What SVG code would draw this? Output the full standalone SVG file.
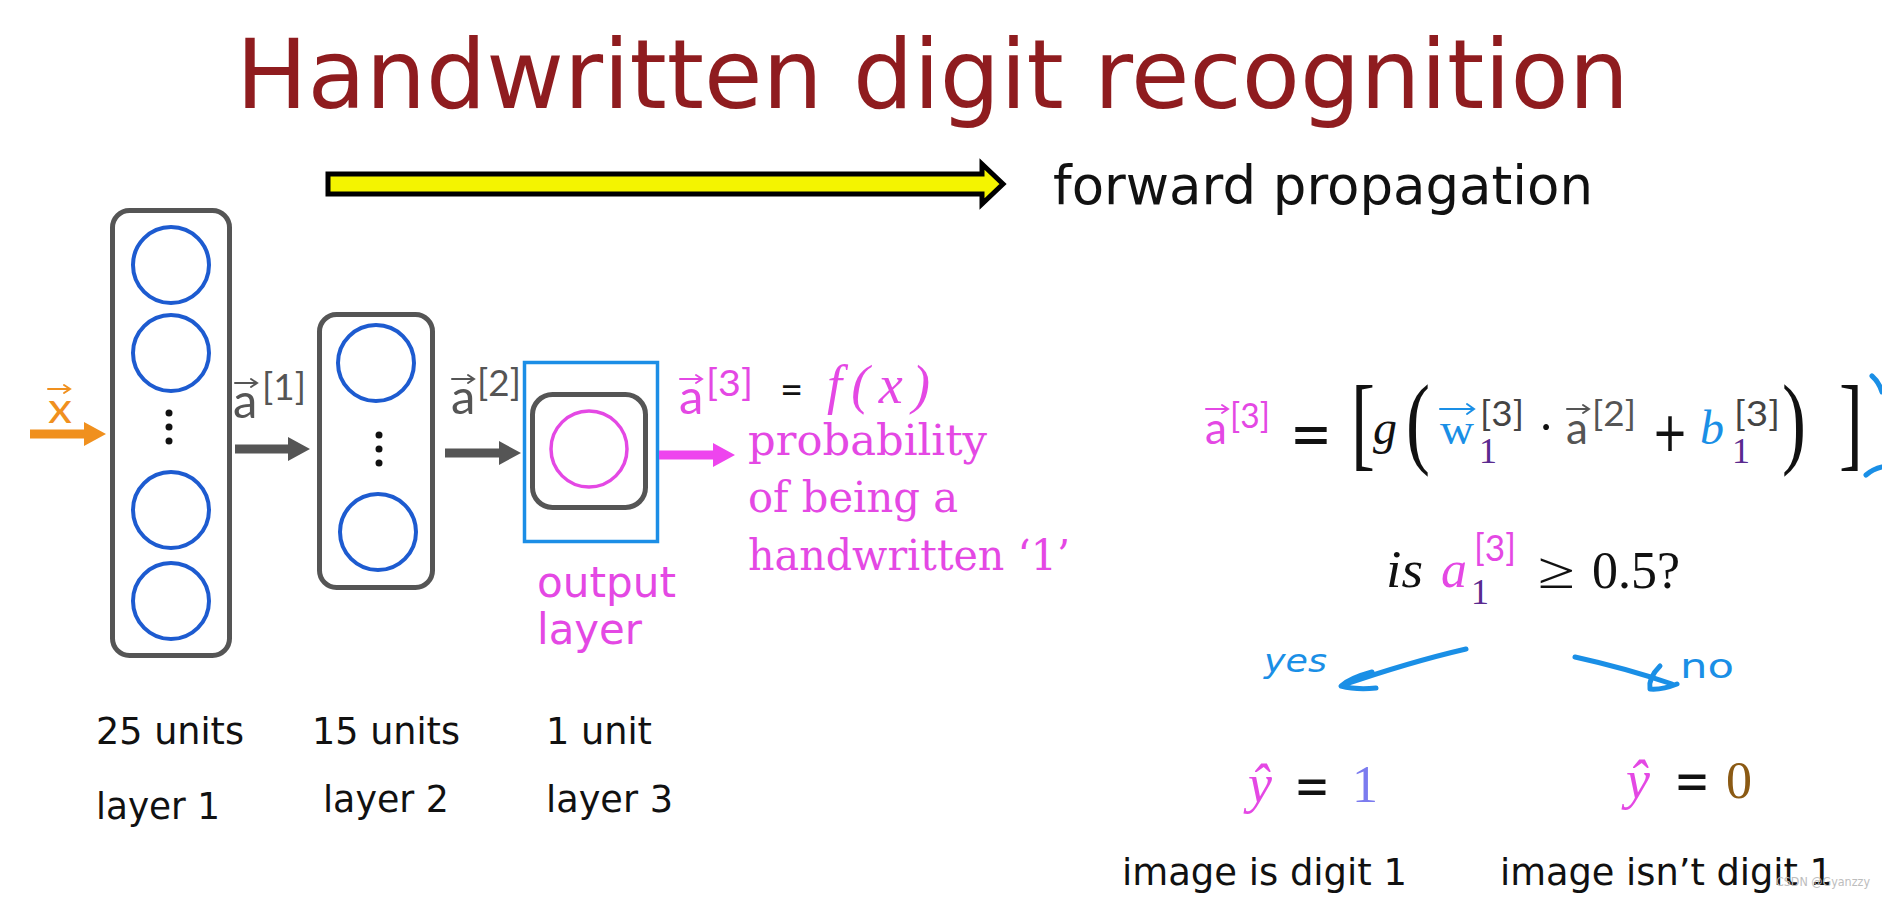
<svg xmlns="http://www.w3.org/2000/svg" xmlns:xlink="http://www.w3.org/1999/xlink" width="1882" height="897" viewBox="0 0 1882 897">
<defs>
<style>
.sans{font-family:"DejaVu Sans","Liberation Sans",sans-serif}
.lato{font-family:Lato,"Liberation Sans",sans-serif}
.serif{font-family:"Liberation Serif","DejaVu Serif",serif}
.dserif{font-family:"DejaVu Serif","Liberation Serif",serif}
.it{font-style:italic}
.box{fill:none;stroke:#555;stroke-width:5}
.unit{fill:none;stroke:#1d5bd0;stroke-width:4}
.dot{fill:#111}
.mag{fill:#e448e4}
.gray{fill:#555}
.blue{fill:#1a8fe6}
.purple{fill:#5a2a8f}
.blk{fill:#111}
.hand{fill:none;stroke:#1a8fe6;stroke-width:5;stroke-linecap:round;stroke-linejoin:round}
.vec{fill:none;stroke-width:2;stroke-linecap:round}
</style>
<path id="vec22" d="M0,0 H22 M16,-4 L22,0 L16,4"/>
<path id="vec34" d="M0,0 H34 M27,-5 L34,0 L27,5"/>
</defs>
<rect width="1882" height="897" fill="#ffffff"/>

<g id="title">
<text class="sans" x="236" y="108" font-size="96" fill="#8f1c1f" textLength="1393" lengthAdjust="spacingAndGlyphs">Handwritten digit recognition</text>
</g>

<g id="forward-label">
<text class="sans" x="1053" y="204" font-size="53" fill="#111" textLength="540" lengthAdjust="spacingAndGlyphs">forward propagation</text>
</g>

<g id="layer1">
<rect class="box" x="112.5" y="210.5" width="117" height="445" rx="17"/>
<circle class="unit" cx="171" cy="265" r="38"/>
<circle class="unit" cx="171" cy="353" r="38"/>
<circle class="dot" cx="169" cy="413" r="3.5"/>
<circle class="dot" cx="169" cy="427" r="3.5"/>
<circle class="dot" cx="169" cy="441" r="3.5"/>
<circle class="unit" cx="171" cy="510" r="38"/>
<circle class="unit" cx="171" cy="601" r="38"/>
</g>

<g id="layer2">
<rect class="box" x="319.5" y="314.5" width="113" height="273" rx="17"/>
<circle class="unit" cx="376" cy="363" r="38"/>
<circle class="dot" cx="379" cy="435" r="3.5"/>
<circle class="dot" cx="379" cy="449" r="3.5"/>
<circle class="dot" cx="379" cy="463" r="3.5"/>
<circle class="unit" cx="378" cy="532" r="38"/>
</g>

<g id="layer3">
<rect x="524.5" y="362.5" width="133" height="179" fill="none" stroke="#1c8ee6" stroke-width="3.5"/>
<rect class="box" x="532.5" y="394.5" width="113" height="113" rx="20"/>
<circle cx="589" cy="449" r="38" fill="none" stroke="#e448e4" stroke-width="3.5"/>
<text class="sans mag" x="537" y="597" font-size="42" textLength="139" lengthAdjust="spacingAndGlyphs">output</text>
<text class="sans mag" x="537" y="644" font-size="42" textLength="105" lengthAdjust="spacingAndGlyphs">layer</text>
</g>

<g id="connectors">
<path d="M328,174 H982 V164 L1003,184 L982,204 V194 H328 Z" fill="#f4f400" stroke="#000" stroke-width="5" stroke-linejoin="miter"/>
<path d="M30,429.5 H84 V422 L106,434 L84,446 V438.5 H30 Z" fill="#f0901e"/>
<path d="M235,444.5 H288 V437 L310,449 L288,461 V453.5 H235 Z" fill="#555"/>
<path d="M445,448.5 H499 V441 L521,453 L499,465 V457.5 H445 Z" fill="#555"/>
<path d="M659,450.5 H713 V443 L735,455 L713,467 V459.5 H659 Z" fill="#ee44ee"/>
<path class="hand" d="M1466,649 Q1410,662 1343,685"/>
<path class="hand" d="M1372,672 Q1350,678 1341,686 Q1356,690 1376,688"/>
<path class="hand" d="M1575,657 Q1625,668 1672,684"/>
<path class="hand" d="M1660,666 Q1648,678 1650,689 Q1662,690 1677,684"/>
<path class="hand" d="M1872,376 Q1879,382 1882,392" stroke-width="4"/>
<path class="hand" d="M1866,475 Q1873,469 1882,467" stroke-width="4"/>
</g>

<g id="label-x">
<use xlink:href="#vec22" href="#vec22" x="48" y="389" class="vec" stroke="#f0901e"/>
<text class="lato" x="48" y="423" font-size="42" fill="#f0901e" textLength="24" lengthAdjust="spacingAndGlyphs">x</text>
</g>

<g id="label-a1">
<use href="#vec22" x="235" y="383" class="vec" stroke="#555"/>
<text class="lato gray" x="233" y="418" font-size="49">a</text>
<text class="lato gray" x="262" y="400" font-size="37" textLength="44" lengthAdjust="spacingAndGlyphs">[1]</text>
</g>

<g id="label-a2">
<use href="#vec22" x="452" y="379" class="vec" stroke="#555"/>
<text class="lato gray" x="451" y="414" font-size="49">a</text>
<text class="lato gray" x="477" y="396" font-size="37" textLength="44" lengthAdjust="spacingAndGlyphs">[2]</text>
</g>

<g id="label-a3">
<use href="#vec22" x="680" y="379" class="vec" stroke="#e448e4"/>
<text class="lato mag" x="679" y="414" font-size="49">a</text>
<text class="lato mag" x="706" y="396" font-size="37" textLength="47" lengthAdjust="spacingAndGlyphs">[3]</text>
<text class="lato blk" x="780" y="404" font-size="40">=</text>
<text class="serif it mag" x="827" y="403" font-size="54" textLength="103" lengthAdjust="spacing">f(x)</text>
</g>

<g id="probability-text">
<text class="dserif mag" x="748" y="455" font-size="43" textLength="239" lengthAdjust="spacingAndGlyphs">probability</text>
<text class="dserif mag" x="748" y="512" font-size="43" textLength="210" lengthAdjust="spacingAndGlyphs">of being a</text>
<text class="dserif mag" x="748" y="570" font-size="43" textLength="322" lengthAdjust="spacingAndGlyphs">handwritten ‘1’</text>
</g>

<g id="layer-labels">
<text class="sans blk" x="96" y="744" font-size="38" textLength="148" lengthAdjust="spacingAndGlyphs">25 units</text>
<text class="sans blk" x="312" y="744" font-size="38" textLength="148" lengthAdjust="spacingAndGlyphs">15 units</text>
<text class="sans blk" x="546" y="744" font-size="38" textLength="106" lengthAdjust="spacingAndGlyphs">1 unit</text>
<text class="sans blk" x="96" y="819" font-size="38" textLength="124" lengthAdjust="spacingAndGlyphs">layer 1</text>
<text class="sans blk" x="323" y="812" font-size="38" textLength="126" lengthAdjust="spacingAndGlyphs">layer 2</text>
<text class="sans blk" x="546" y="812" font-size="38" textLength="127" lengthAdjust="spacingAndGlyphs">layer 3</text>
</g>

<g id="equation">
<use href="#vec22" x="1206" y="409" class="vec" stroke="#e448e4"/>
<text class="lato mag" x="1205" y="444" font-size="44">a</text>
<text class="lato mag" x="1230" y="428" font-size="34" textLength="40" lengthAdjust="spacingAndGlyphs">[3]</text>
<text class="sans blk" x="1290" y="454" font-size="60" textLength="42" lengthAdjust="spacingAndGlyphs">=</text>
<text class="serif blk" font-size="72" transform="translate(1351,457) scale(1,1.45)">[</text>
<text class="serif it blk" x="1373" y="444" font-size="48">g</text>
<text class="serif blk" font-size="72" transform="translate(1406,455) scale(1,1.42)">(</text>
<use href="#vec34" x="1440" y="409" class="vec" stroke="#1a8fe6" stroke-width="2.5"/>
<text class="serif blue" x="1440" y="444" font-size="44" textLength="34" lengthAdjust="spacingAndGlyphs">w</text>
<text class="serif purple" x="1479" y="463" font-size="36">1</text>
<text class="lato" fill="#444" x="1480" y="426" font-size="34" textLength="44" lengthAdjust="spacingAndGlyphs">[3]</text>
<text class="serif blk" x="1546" y="444" font-size="50" text-anchor="middle">·</text>
<use href="#vec22" x="1567" y="409" class="vec" stroke="#555"/>
<text class="lato gray" x="1566" y="444" font-size="44">a</text>
<text class="lato gray" x="1592" y="426" font-size="34" textLength="44" lengthAdjust="spacingAndGlyphs">[2]</text>
<text class="sans blk" x="1652" y="451" font-size="56" textLength="36" lengthAdjust="spacingAndGlyphs">+</text>
<text class="serif it blue" x="1700" y="444" font-size="48">b</text>
<text class="serif purple" x="1732" y="463" font-size="36">1</text>
<text class="lato" fill="#444" x="1734" y="426" font-size="34" textLength="46" lengthAdjust="spacingAndGlyphs">[3]</text>
<text class="serif blk" font-size="72" transform="translate(1782,455) scale(1,1.42)">)</text>
<text class="serif blk" font-size="72" transform="translate(1839,457) scale(1,1.45)">]</text>
</g>

<g id="question">
<text class="serif it blk" x="1386" y="587" font-size="52" textLength="37" lengthAdjust="spacingAndGlyphs">is</text>
<text class="serif it mag" x="1441" y="587" font-size="52" textLength="26" lengthAdjust="spacingAndGlyphs">a</text>
<text class="lato mag" x="1474" y="561" font-size="36" textLength="42" lengthAdjust="spacingAndGlyphs">[3]</text>
<text class="serif purple" x="1471" y="604" font-size="36">1</text>
<text class="serif blk" x="1538" y="588" font-size="52" textLength="37" lengthAdjust="spacingAndGlyphs">≥</text>
<text class="serif blk" x="1592" y="588" font-size="52" textLength="88" lengthAdjust="spacingAndGlyphs">0.5?</text>
</g>

<g id="yes-branch">
<text class="sans it" fill="#1a8fe6" x="1264" y="672" font-size="32" textLength="63" lengthAdjust="spacingAndGlyphs">yes</text>
<text class="serif it mag" x="1248" y="802" font-size="54">ŷ</text>
<text class="sans blk" x="1294" y="805" font-size="56" textLength="36" lengthAdjust="spacingAndGlyphs">=</text>
<text class="serif" fill="#7b7bef" x="1352" y="802" font-size="52">1</text>
<text class="sans blk" x="1122" y="885" font-size="38" textLength="285" lengthAdjust="spacingAndGlyphs">image is digit 1</text>
</g>

<g id="no-branch">
<text class="sans" fill="#1a8fe6" x="1680" y="678" font-size="34" textLength="54" lengthAdjust="spacingAndGlyphs">no</text>
<text class="serif it mag" x="1626" y="798" font-size="54">ŷ</text>
<text class="sans blk" x="1674" y="800" font-size="56" textLength="36" lengthAdjust="spacingAndGlyphs">=</text>
<text class="serif" fill="#8b5a14" x="1726" y="798" font-size="52">0</text>
<text class="sans blk" x="1500" y="885" font-size="38" textLength="333" lengthAdjust="spacingAndGlyphs">image isn’t digit 1</text>
</g>

<g id="watermark">
<text class="sans" fill="#bdbdbd" x="1776" y="886" font-size="12" textLength="94" lengthAdjust="spacingAndGlyphs">CSDN @Gyanzzy</text>
</g>
</svg>
